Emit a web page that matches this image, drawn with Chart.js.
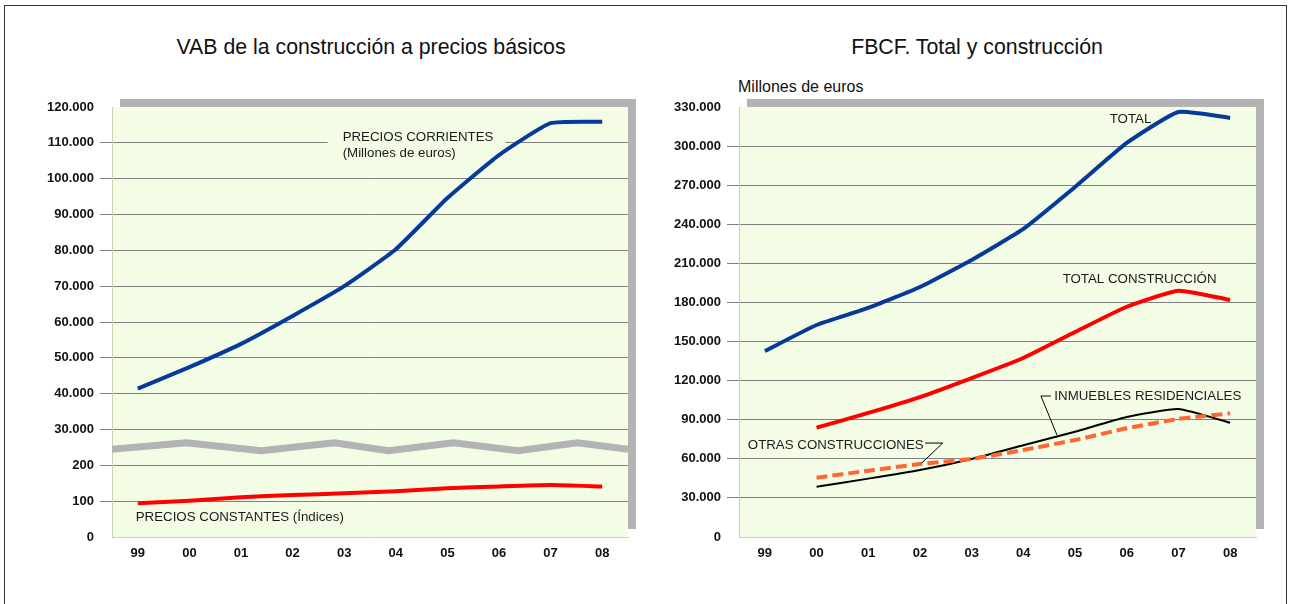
<!DOCTYPE html>
<html>
<head>
<meta charset="utf-8">
<script src="https://cdn.jsdelivr.net/npm/chart.js@4"></script>
<style>
  html, body { margin: 0; padding: 0; background: #fff; }
  body { width: 1289px; height: 604px; position: relative; overflow: hidden; font-family: "Liberation Sans", Arial, sans-serif; }
  .frame { position: absolute; left: 4px; top: 5px; width: 1281px; height: 660px; border: 1px solid #333; }
  .title { position: absolute; font-size: 21.3px; color: #111; transform: translate(-50%, -50%); white-space: nowrap; }
  .box { position: absolute; top: 0; height: 604px; }
</style>
</head>
<body>
<div class="frame"></div>
<div class="title" style="left:371px; top:47px">VAB de la construcción a precios básicos</div>
<div class="title" style="left:977px; top:47px">FBCF. Total y construcción</div>
<div style="position:absolute; left:738px; top:78px; font-size:16px; color:#111">Millones de euros</div>
<div class="box" style="left:0; width:640px"><canvas id="vab"></canvas></div>
<div class="box" style="left:640px; width:649px"><canvas id="fbcf"></canvas></div>

<script>
// ---- data ----
const years = ['99', '00', '01', '02', '03', '04', '05', '06', '07', '08'];

// VAB (left) - current prices in millions of euros, constant prices as index
const vabCorrientes = [41400, 47400, 53900, 61700, 70000, 80300, 94600, 106600, 115500, 115900];
const vabConstantes = [94, 101, 111, 117, 122, 128, 136, 141, 145, 141];
const vabTickLabels = ['0', '100', '200', '30.000', '40.000', '50.000', '60.000', '70.000',
                       '80.000', '90.000', '100.000', '110.000', '120.000'];
// axis-break zigzag (x in category index, y in axis units)
const corteX = [-0.5, 0.94, 2.39, 3.81, 4.86, 6.12, 7.37, 8.52, 9.5];
const corteY = [245, 263, 241, 263, 241, 263, 241, 263, 245];

// FBCF (right) - millions of euros
const fbcfTotal = [142700, 162700, 175800, 191900, 212600, 236400, 268600, 302400, 326200, 321600];
const fbcfConstruccion = [null, 83900, 95200, 107400, 122000, 137400, 157300, 176700, 189000, 181900];
const fbcfResidencial = [null, 38600, 44800, 51400, 59900, 70400, 80800, 92100, 98200, 87700];
const fbcfOtras = [null, 45500, 50900, 56000, 59900, 66800, 74400, 83400, 90600, 94900];

// ---- helpers ----
const PLOT_BG = '#f3fde5';
const GRID = '#808080';
const EDGE = '#c5d3ae';
const FONT = '"Liberation Sans", Arial, sans-serif';

Chart.defaults.font.family = FONT;

// broken axis: below 300 = index, above 300 = 30.000 + 100 per unit
const toEje = v => 300 + (v - 30000) / 100;
const miles = v => String(v).replace(/\B(?=(\d{3})+(?!\d))/g, '.');

const fondo = {
  id: 'fondo',
  beforeDraw(chart) {
    const { ctx, chartArea: a } = chart;
    ctx.save();
    ctx.fillStyle = '#b3b3b3';
    ctx.fillRect(a.left + 8, a.top - 8, a.width, a.height);
    ctx.fillStyle = PLOT_BG;
    ctx.fillRect(a.left, a.top, a.width, a.height);
    ctx.restore();
  }
};

function notas(textos, guias) {
  return {
    id: 'notas',
    beforeDatasetsDraw(chart) {
      const { ctx, scales: { x, y } } = chart;
      ctx.save();
      ctx.font = '13.3px ' + FONT;
      textos.filter(t => t.hueco).forEach(t => {
        const px = x.getPixelForValue(t.x), py = y.getPixelForValue(t.y);
        const w = ctx.measureText(t.text).width;
        ctx.fillStyle = PLOT_BG;
        ctx.fillRect(px - t.hueco[0], py - 10, w + t.hueco[0] + t.hueco[1], 18);
      });
      ctx.restore();
    },
    afterDatasetsDraw(chart) {
      const { ctx, scales: { x, y } } = chart;
      ctx.save();
      ctx.font = '13.3px ' + FONT;
      ctx.fillStyle = '#1a1a1a';
      ctx.textBaseline = 'middle';
      ctx.textAlign = 'left';
      textos.forEach(t => ctx.fillText(t.text, x.getPixelForValue(t.x), y.getPixelForValue(t.y)));
      ctx.strokeStyle = '#000';
      ctx.lineWidth = 1;
      guias.forEach(g => {
        ctx.beginPath();
        g.forEach(([gx, gy], i) => {
          const px = x.getPixelForValue(gx), py = y.getPixelForValue(gy);
          if (i === 0) ctx.moveTo(px, py); else ctx.lineTo(px, py);
        });
        ctx.stroke();
      });
      ctx.restore();
    }
  };
}

function ejeX() {
  return {
    type: 'linear',
    min: -0.5,
    max: 9.5,
    afterBuildTicks: s => { s.ticks = years.map((_, i) => ({ value: i })); },
    afterFit: s => { s.height = 67; },
    grid: { display: false, drawTicks: false },
    border: { display: true, color: EDGE },
    ticks: {
      padding: 9, color: '#111', maxRotation: 0, autoSkip: false,
      font: { size: 13, weight: 'bold' },
      callback: v => years[v]
    }
  };
}

function ejeY(width, max, step, label) {
  const n = Math.round(max / step);
  return {
    min: 0,
    max: max,
    afterFit: s => { s.width = width; },
    grid: {
      color: c => (c.index === 0 || c.index === n) ? 'rgba(0,0,0,0)' : GRID,
      tickLength: 12,
      lineWidth: 1
    },
    border: { color: EDGE },
    ticks: {
      stepSize: step, padding: 6, color: '#111',
      font: { size: 13, weight: 'bold' },
      callback: label
    }
  };
}

function linea(data, color, width, extra) {
  return Object.assign({
    data: data.map((v, i) => ({ x: i, y: v })),
    borderColor: color,
    borderWidth: width,
    pointRadius: 0,
    tension: 0.15,
    fill: false,
    borderJoinStyle: 'round'
  }, extra || {});
}

const base = {
  responsive: true,
  maintainAspectRatio: false,
  animation: false,
  events: [],
  plugins: { legend: { display: false }, tooltip: { enabled: false } }
};

// ---- VAB chart ----
new Chart(document.getElementById('vab'), {
  type: 'line',
  data: {
    datasets: [
      {
        data: corteX.map((x, i) => ({ x: x, y: corteY[i] })),
        borderColor: '#b3b3b3', borderWidth: 7, pointRadius: 0, tension: 0, fill: false
      },
      linea(vabConstantes, '#ff0000', 4),
      linea(vabCorrientes.map(toEje), '#063a9a', 4)
    ]
  },
  options: Object.assign({}, base, {
    layout: { padding: { top: 107, right: 12, left: 0, bottom: 0 } },
    scales: {
      x: ejeX(),
      y: ejeY(112, 1200, 100, v => vabTickLabels[Math.round(v / 100)])
    }
  }),
  plugins: [fondo, notas([
    { text: 'PRECIOS CORRIENTES', x: 3.97, y: 1116, hueco: [15, 12] },
    { text: '(Millones de euros)', x: 3.97, y: 1072 },
    { text: 'PRECIOS CONSTANTES (Índices)', x: -0.04, y: 56 }
  ], [])]
});

// ---- FBCF chart ----
new Chart(document.getElementById('fbcf'), {
  type: 'line',
  data: {
    datasets: [
      linea(fbcfTotal, '#063a9a', 4),
      linea(fbcfConstruccion, '#ff0000', 4),
      linea(fbcfOtras, '#ff6633', 4, { borderDash: [11, 5] }),
      linea(fbcfResidencial, '#000000', 2)
    ]
  },
  options: Object.assign({}, base, {
    layout: { padding: { top: 107, right: 33, left: 0, bottom: 0 } },
    scales: {
      x: ejeX(),
      y: ejeY(99, 330000, 30000, v => miles(v))
    }
  }),
  plugins: [fondo, notas([
    { text: 'TOTAL', x: 6.67, y: 320800 },
    { text: 'TOTAL CONSTRUCCIÓN', x: 5.76, y: 198000 },
    { text: 'INMUEBLES RESIDENCIALES', x: 5.6, y: 108200 },
    { text: 'OTRAS CONSTRUCCIONES', x: -0.33, y: 70100 }
  ], [
    [[5.53, 108200], [5.34, 108200], [5.65, 78300]],
    [[3.1, 72100], [3.44, 72100], [3.03, 56600]]
  ])]
});
</script>
</body>
</html>
